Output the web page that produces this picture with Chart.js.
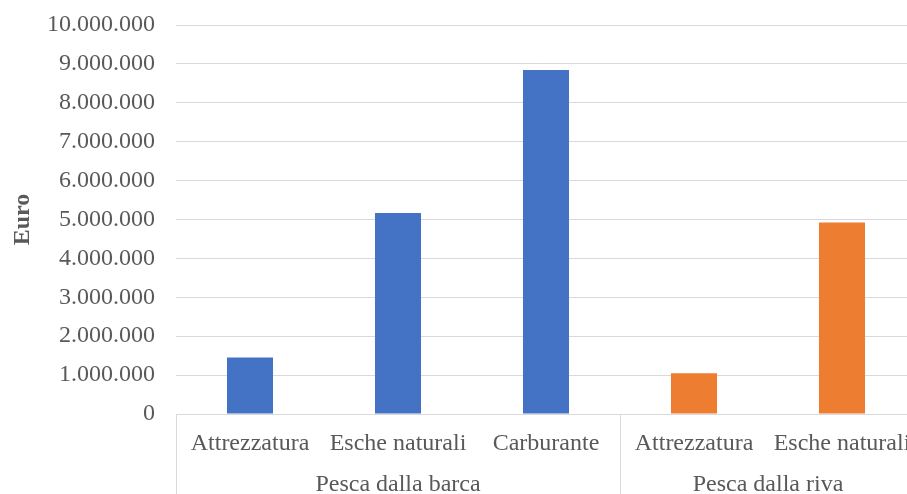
<!DOCTYPE html>
<html>
<head>
<meta charset="utf-8">
<script src="https://cdn.jsdelivr.net/npm/chart.js@4.4.1/dist/chart.umd.min.js"></script>
<style>
  html, body { margin: 0; padding: 0; background: #fff; overflow: hidden; }
  #wrap { width: 907px; height: 494px; position: relative; overflow: hidden; }
  canvas { display: block; }
</style>
</head>
<body>
<div id="wrap"><canvas id="c" width="907" height="494"></canvas></div>
<script>
// Spending categories, grouped by fishing mode
const categories = ['Attrezzatura', 'Esche naturali', 'Carburante', 'Attrezzatura', 'Esche naturali'];
const groups = ['Pesca dalla barca', 'Pesca dalla riva'];
const groupSpans = [3, 2];

// Values in euro (null where the category belongs to the other group)
const pescaBarca = [1450000, 5170000, 8840000, null, null];
const pescaRiva = [null, null, null, 1050000, 4920000];

const yTicks = [0, 1000000, 2000000, 3000000, 4000000, 5000000, 6000000, 7000000, 8000000, 9000000, 10000000];

const TEXT = '#595959';
const LINE = '#d9d9d9';
const FONT = "'Liberation Serif', 'Times New Roman', serif";
const X_OVERHANG = 9; // category axis runs a little past the right edge

function fmt(v) {
  return String(v).replace(/\B(?=(\d{3})+(?!\d))/g, '.');
}

// Stretch the category axis past the canvas edge so the last label is cut off
const overhang = {
  id: 'overhang',
  afterLayout(chart) {
    const x = chart.scales.x;
    x.right += X_OVERHANG;
    x.width += X_OVERHANG;
    x.configure();
  }
};

// Group labels and separators under the category labels
const groupAxis = {
  id: 'groupAxis',
  afterDraw(chart) {
    const { ctx, chartArea } = chart;
    const x = chart.scales.x;
    const half = (x.getPixelForValue(1) - x.getPixelForValue(0)) / 2;
    const bottom = chart.height;
    ctx.save();
    ctx.strokeStyle = LINE;
    ctx.lineWidth = 1;
    let start = 0;
    const edges = [];
    groups.forEach((g, i) => {
      const end = start + groupSpans[i] - 1;
      const left = x.getPixelForValue(start) - half;
      const right = x.getPixelForValue(end) + half;
      edges.push(left);
      if (i === groups.length - 1) edges.push(right);
      ctx.fillStyle = TEXT;
      ctx.font = '24px ' + FONT;
      ctx.textAlign = 'center';
      ctx.textBaseline = 'alphabetic';
      ctx.fillText(g, (left + right) / 2, 491);
      start = end + 1;
    });
    edges.forEach(px => {
      const xx = Math.round(px) + 0.5;
      ctx.beginPath();
      ctx.moveTo(xx, chartArea.bottom);
      ctx.lineTo(xx, bottom);
      ctx.stroke();
    });
    ctx.restore();
  }
};

new Chart(document.getElementById('c'), {
  type: 'bar',
  data: {
    labels: categories,
    datasets: [
      { label: groups[0], data: pescaBarca, backgroundColor: '#4472C4', grouped: false },
      { label: groups[1], data: pescaRiva, backgroundColor: '#ED7D31', grouped: false }
    ]
  },
  options: {
    responsive: false,
    animation: false,
    layout: { padding: { top: 25, right: 0, bottom: 0, left: 0 } },
    datasets: { bar: { categoryPercentage: 1, barPercentage: 0.311 } },
    plugins: { legend: { display: false }, tooltip: { enabled: false } },
    scales: {
      x: {
        grid: { display: false, drawTicks: false },
        border: { display: true, color: LINE },
        ticks: { color: TEXT, font: { family: FONT, size: 24 }, padding: 15, maxRotation: 0, autoSkip: false },
        afterFit(s) { s.height = 80; s.paddingLeft = 0; s.paddingRight = 0; }
      },
      y: {
        min: 0,
        max: 10000000,
        afterBuildTicks(s) { s.ticks = yTicks.map(v => ({ value: v })); },
        grid: { color: LINE, drawTicks: false },
        border: { display: false },
        ticks: { color: TEXT, font: { family: FONT, size: 24 }, padding: 21, callback: v => fmt(v) },
        title: { display: true, text: 'Euro', color: TEXT, font: { family: FONT, size: 24, weight: 'bold' }, padding: { top: 8, bottom: 0 } },
        afterFit(s) { s.width = 176; s.paddingTop = 0; s.paddingBottom = 0; }
      }
    }
  },
  plugins: [overhang, groupAxis]
});
</script>
</body>
</html>
